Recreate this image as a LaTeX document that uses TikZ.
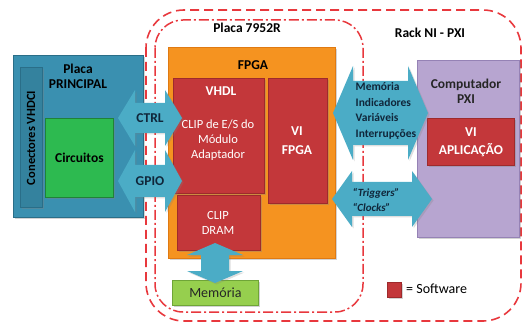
\documentclass[tikz,border=0pt]{standalone}
\usepackage{fontspec}
\setmainfont{Carlito}
\usetikzlibrary{shadows}
\definecolor{arrowc}{HTML}{4BACC6}
\definecolor{plbox}{HTML}{3A90B0}
\definecolor{plborder}{HTML}{2A6E88}
\definecolor{circ}{HTML}{2DBA50}
\definecolor{fpga}{HTML}{F59320}
\definecolor{fpgab}{HTML}{E07A12}
\definecolor{swred}{HTML}{C3373A}
\definecolor{swredb}{HTML}{9E2A2C}
\definecolor{pxi}{HTML}{B7A5D0}
\definecolor{pxib}{HTML}{9582B5}
\definecolor{memg}{HTML}{96CF4E}
\definecolor{memgb}{HTML}{6FA537}
\definecolor{dashred}{HTML}{E8383D}
\definecolor{arrtxt}{HTML}{10263A}
\newcommand\fatH[6]{% x1, x2, y, halfbody, halfhead, headlen
  \fill[arrowc, drop shadow={opacity=0.25,shadow xshift=1.5pt,shadow yshift=-1.5pt}] (#1,#3) -- ({#1+#6},{#3-#5}) -- ({#1+#6},{#3-#4}) -- ({#2-#6},{#3-#4}) -- ({#2-#6},{#3-#5}) -- (#2,#3) -- ({#2-#6},{#3+#5}) -- ({#2-#6},{#3+#4}) -- ({#1+#6},{#3+#4}) -- ({#1+#6},{#3+#5}) -- cycle;}
\newcommand\fatV[6]{% x, y1, y2, halfbody, halfhead, headlen
  \fill[arrowc, drop shadow={opacity=0.25,shadow xshift=1.5pt,shadow yshift=-1.5pt}] (#1,#2) -- ({#1+#5},{#2+#6}) -- ({#1+#4},{#2+#6}) -- ({#1+#4},{#3-#6}) -- ({#1+#5},{#3-#6}) -- (#1,#3) -- ({#1-#5},{#3-#6}) -- ({#1-#4},{#3-#6}) -- ({#1-#4},{#2+#6}) -- ({#1-#5},{#2+#6}) -- cycle;}
\begin{document}
\begin{tikzpicture}[x=1pt,y=-1pt,
  shad/.style={drop shadow={opacity=0.35,shadow xshift=2pt,shadow yshift=-2pt}},
  box/.style={shad, line width=0.8pt, inner sep=0pt, anchor=north west},
  bluebox/.style={box, fill=plbox, draw=plborder},
  swbox/.style={box, fill=swred, draw=swredb},
  lbl/.style={font=\fontsize{13.5}{15}\selectfont\bfseries, align=center, inner sep=0pt},
  wlbl/.style={lbl, text=white},
  btxt/.style={font=\fontsize{12.5}{15}\selectfont, text=white, align=center, inner sep=0pt},
  atxt/.style={font=\fontsize{11.5}{15.5}\selectfont\bfseries, text=arrtxt, align=left, inner sep=0pt},
  outerline/.style={draw=dashred, line width=1.6pt, dash pattern=on 9pt off 5pt},
  innerline/.style={draw=dashred, line width=1.5pt, dash pattern=on 10pt off 3pt on 2pt off 3pt}
]
\useasboundingbox (0,0) rectangle (528,326);

% frames
\draw[outerline, rounded corners=38] (146,10) rectangle (521,321);
\draw[innerline, rounded corners=28] (155,20) rectangle (363,312);
\node[lbl] (racktxt) at (430,33) {Rack NI - PXI};
\node[lbl] (placatxt) at (247,28) {Placa 7952R};

% Placa principal
\node[bluebox, minimum width=130, minimum height=162] (principal) at (13,55) {};
\node[box, fill=plbox!90!black, draw=plborder, minimum width=22, minimum height=140] (vhdci) at (20,67) {};
\node[lbl, font=\fontsize{12.5}{15}\selectfont\bfseries, rotate=90] (vhdcitxt) at (31,138) {Conectores VHDCI};
\node[lbl] (ptxt) at (78,76) {Placa\\PRINCIPAL};
\node[box, fill=circ, draw=circ!70!black, minimum width=68, minimum height=79] (circ) at (45,118) {};
\node[lbl] (circtxt) at (circ.center) {Circuitos};

% FPGA
\node[box, fill=fpga, draw=fpgab, minimum width=167, minimum height=211] (fpga) at (168,47) {};
\node[lbl] (fpgatxt) at (253,65) {FPGA};
\node[swbox, minimum width=91, minimum height=115] (vhdl) at (173,78) {};
\node[wlbl] (vhdltxt) at (221,91) {VHDL};
\node[btxt] (cliptxt) at (218,140) {CLIP de E/S do\\Módulo\\Adaptador};
\node[swbox, minimum width=83, minimum height=55] (dram) at (177,195) {};
\node[btxt] (dramtxt) at (218,223) {CLIP\\DRAM};
\node[swbox, minimum width=59, minimum height=125] (vifpga) at (268,78) {};
\node[wlbl] (vifpgatxt) at (297,141) {VI\\[4pt]FPGA};

% Memoria
\node[box, fill=memg, draw=memgb, minimum width=86, minimum height=25] (mem) at (172,280) {};
\node[font=\fontsize{14}{16}\selectfont, text=black!85, inner sep=0pt] (memtxt) at (mem.center) {Memória};

% Computador PXI
\node[box, fill=pxi, draw=pxib, minimum width=102, minimum height=177] (pxi) at (417,60) {};
\node[lbl, text=black!85] (pxitxt) at (466,91) {Computador\\PXI};
\node[swbox, minimum width=87, minimum height=47] (viapp) at (427,118) {};
\node[wlbl] (viapptxt) at (viapp.center) {VI\\[3pt]APLICAÇÃO};

% fat arrows (over the frames)
\fatH{118}{182}{118}{15}{28}{17}
\node[lbl, text=arrtxt] (ctrl) at (150,118) {CTRL};
\fatH{118}{182}{181}{16}{31}{17}
\node[lbl, text=arrtxt] (gpio) at (150,181) {GPIO};
\fatV{215}{243}{283}{14}{28}{12}
\fatH{333}{428}{113}{32}{47}{20}
\node[atxt] (sig) at (386,111) {Memória\\Indicadores\\Variáveis\\Interrupções};
\fatH{332}{432}{199}{17}{28}{20}
\node[atxt, font=\fontsize{11}{15}\selectfont\bfseries\itshape] (trig) at (376,200) {“Triggers”\\“Clocks”};

% legend
\node[swbox, minimum width=14, minimum height=15] (leg) at (387,282) {};
\node[font=\fontsize{14}{16}\selectfont, inner sep=0pt, anchor=west] (legtxt) at (406,289) {= Software};
\end{tikzpicture}
\end{document}
